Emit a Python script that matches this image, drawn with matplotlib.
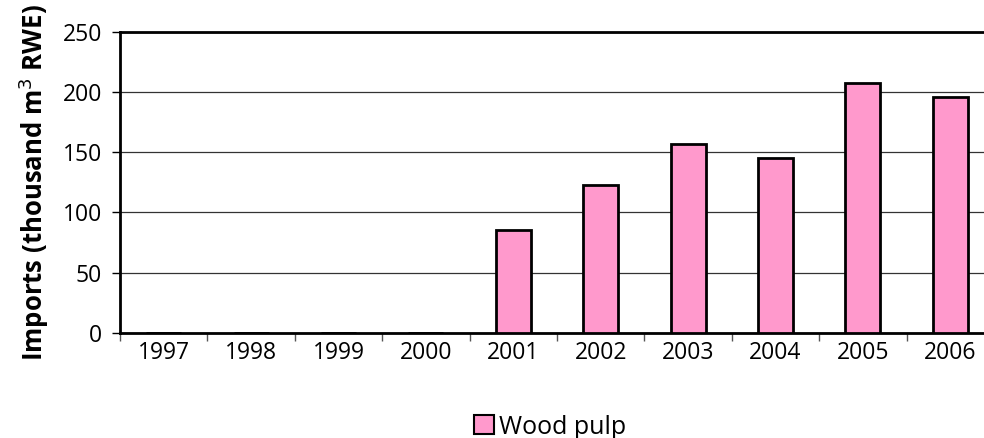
import numpy as np
import matplotlib.pyplot as plt
from matplotlib.patches import Patch

plt.rcParams['font.family'] = ['Open Sans', 'DejaVu Sans']

years = ["1997", "1998", "1999", "2000", "2001", "2002", "2003", "2004", "2005", "2006"]
wood_pulp = [0, 0, 0, 0, 85, 123, 157, 145, 207, 196]

fig = plt.figure(figsize=(9.84, 4.38), dpi=100)
# right edge of the plot runs past the picture, as in the original
ax = fig.add_axes([120 / 984, 1 - 333 / 438, 874 / 984, 301.5 / 438])

x = np.arange(len(years))
ax.bar(x, wood_pulp, width=0.4, color="#FF99CC", edgecolor="black", linewidth=2, zorder=3)

ax.set_xlim(-0.5, len(years) - 0.5)
ax.set_ylim(0, 250)
ax.set_yticks(range(0, 251, 50))
ax.yaxis.grid(True, color="#333333", linewidth=0.9, zorder=0)

ax.set_xticks(x)
ax.set_xticklabels(years)
ax.set_xticks(np.arange(-0.5, len(years), 1), minor=True)
ax.tick_params(axis="x", which="major", length=0, pad=6, labelsize=16.5)
ax.tick_params(axis="x", which="minor", length=6, width=1, color="#555555")
ax.tick_params(axis="y", length=6, width=1, labelsize=16.5, pad=7)

for s in ["left", "bottom", "top"]:
    ax.spines[s].set_linewidth(2)
ax.spines["right"].set_visible(False)

ax.set_ylabel("Imports (thousand m$^3$ RWE)", fontsize=18.5, fontweight="bold", labelpad=8)

handle = Patch(facecolor="#FF99CC", edgecolor="black", linewidth=1.5)
fig.legend([handle], ["Wood pulp"], loc="center", bbox_to_anchor=(550 / 984, 1 - 427 / 438),
           frameon=False, fontsize=18, handlelength=0.8, handleheight=0.8, handletextpad=0.2)

fig.savefig("out.png", dpi=100)
